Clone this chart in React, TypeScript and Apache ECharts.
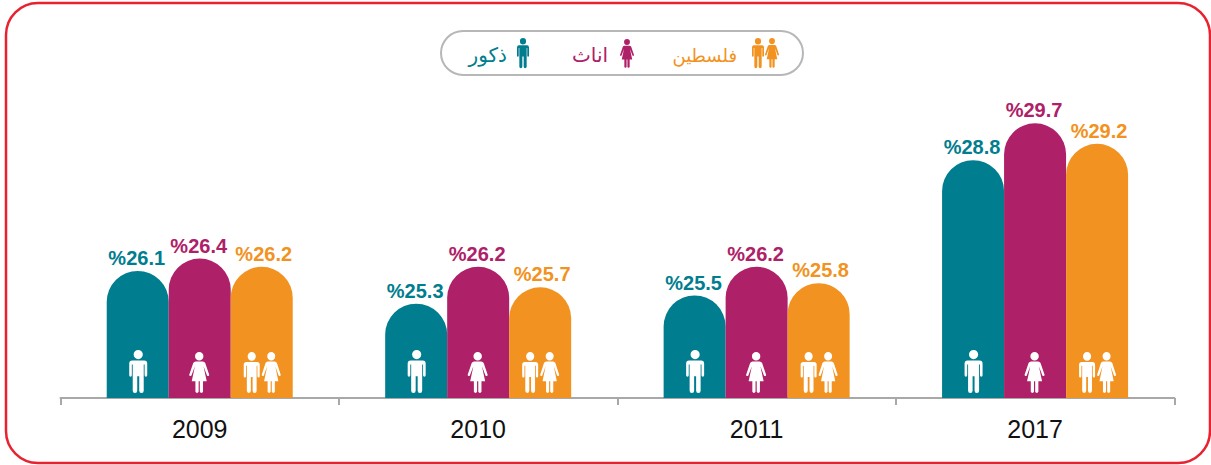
import React, { useEffect, useRef } from "react";
import * as echarts from "echarts";

const years = ["2009", "2010", "2011", "2017"];
const males = [26.1, 25.3, 25.5, 28.8];
const females = [26.4, 26.2, 26.2, 29.7];
const palestine = [26.2, 25.7, 25.8, 29.2];

const maleName = "ذكور";
const femaleName = "اناث";
const palestineName = "فلسطين";

const TEAL = "#007d8e";
const MAGENTA = "#ae2068";
const ORANGE = "#f29220";

const MAN =
  "M9 0A4.6 4.6 0 1 1 9 9.2A4.6 4.6 0 1 1 9 0Z M3 10.5H15A3 3 0 0 1 18 13.5V25.5A1.3 1.3 0 0 1 15.4 25.5V14.5H14.5V41A2 2 0 0 1 10 41V26.5H8V41A2 2 0 0 1 3.5 41V14.5H2.6V25.5A1.3 1.3 0 0 1 0 25.5V13.5A3 3 0 0 1 3 10.5Z";
const WOMAN =
  "M10 0A4.2 4.2 0 1 1 10 8.4A4.2 4.2 0 1 1 10 0Z M6.5 9.5H13.5A3 3 0 0 1 16 11L20 22.5A1.2 1.2 0 0 1 17.8 23.3L14.3 14L17.5 29H13.8V39.5A1.7 1.7 0 0 1 10.6 39.5V29H9.4V39.5A1.7 1.7 0 0 1 6.2 39.5V29H2.5L5.7 14L2.2 23.3A1.2 1.2 0 0 1 0 22.5L4 11A3 3 0 0 1 6.5 9.5Z";

echarts.graphic.registerShape("legendMan", echarts.graphic.extendPath(MAN, {}) as any);
echarts.graphic.registerShape("legendWoman", echarts.graphic.extendPath(WOMAN, {}) as any);

const barSeries = (name: string, data: number[], color: string, labelShift: number) => ({
  name,
  type: "bar",
  data,
  barWidth: 62,
  barGap: 0,
  itemStyle: { color, borderRadius: [31, 31, 0, 0] },
  label: {
    show: true,
    position: "top",
    distance: 3,
    offset: [labelShift, 0],
    formatter: (p: any) => "%" + p.value.toFixed(1),
    color,
    fontFamily: "Liberation Sans",
    fontWeight: "bold",
    fontSize: 20,
  },
});

const iconPath = (pathData: string, x: number, y: number, width: number, height: number, fill: string) => ({
  type: "path",
  shape: { pathData, x, y, width, height, layout: "cover" },
  style: { fill },
});

const legendText = (text: string, right: number, fill: string, fontSize: number) => ({
  type: "text",
  x: right,
  y: 55,
  style: {
    text,
    fill,
    fontFamily: "DejaVu Sans",
    fontSize,
    align: "right",
    verticalAlign: "middle",
  },
});

export default function App() {
  const ref = useRef<HTMLDivElement>(null);
  useEffect(() => {
    document.body.style.margin = "0";
    const chart = echarts.init(ref.current!, undefined, { renderer: "svg" });
    chart.setOption({
      animation: false,
      backgroundColor: "#ffffff",
      grid: { left: 60.5, right: 36.7, top: 111, bottom: 67 },
      xAxis: {
        type: "category",
        data: years,
        axisLine: { lineStyle: { color: "#a8a8a8", width: 2 } },
        axisTick: { show: true, alignWithLabel: false, length: 7, lineStyle: { color: "#a8a8a8", width: 2 } },
        axisLabel: { color: "#111111", fontFamily: "Liberation Sans", fontSize: 25, margin: 18 },
      },
      yAxis: { type: "value", min: 23, max: 30, show: false },
      series: [
        barSeries(maleName, males, TEAL, -1),
        barSeries(femaleName, females, MAGENTA, -1),
        barSeries(palestineName, palestine, ORANGE, 2),
        {
          type: "custom",
          data: years.map((_, i) => i),
          silent: true,
          z: 5,
          renderItem: (_: any, api: any) => {
            const p = api.coord([api.value(0), 23]);
            const cx = p[0];
            const base = p[1];
            return {
              type: "group",
              children: [
                iconPath(MAN, cx - 70.5, base - 48, 18, 43, "#ffffff"),
                iconPath(WOMAN, cx - 10.5, base - 46, 20, 41, "#ffffff"),
                iconPath(MAN, cx + 44, base - 46, 16, 41, "#ffffff"),
                iconPath(WOMAN, cx + 62, base - 46, 19, 41, "#ffffff"),
              ],
            };
          },
        },
      ],
      graphic: [
        {
          type: "rect",
          shape: { x: 6, y: 3, width: 1204, height: 460, r: 32 },
          style: { fill: "none", stroke: "#e8222f", lineWidth: 2.5 },
          silent: true,
        },
        {
          type: "rect",
          shape: { x: 441, y: 31, width: 362, height: 44, r: 22 },
          style: { fill: "#ffffff", stroke: "#b5b7b9", lineWidth: 2 },
        },
        legendText(maleName, 507, TEAL, 20),
        legendText(femaleName, 608, MAGENTA, 20),
        legendText(palestineName, 737, ORANGE, 18),
        { type: "legendMan", x: 517, y: 38, scaleX: 12 / 18, scaleY: 30 / 43, style: { fill: TEAL } },
        { type: "legendWoman", x: 620, y: 39, scaleX: 14 / 20, scaleY: 29 / 41, style: { fill: MAGENTA } },
        { type: "legendMan", x: 752, y: 38, scaleX: 12 / 18, scaleY: 30 / 43, style: { fill: ORANGE } },
        { type: "legendWoman", x: 765, y: 38, scaleX: 14 / 20, scaleY: 30 / 41, style: { fill: ORANGE } },
      ],
    });
    return () => chart.dispose();
  }, []);
  return <div ref={ref} style={{ width: 1211, height: 465 }} />;
}
